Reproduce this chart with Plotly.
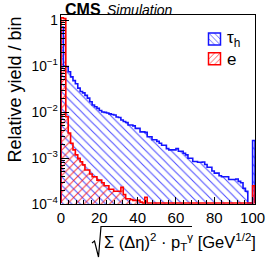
import plotly.graph_objects as go

# ---------------- data ----------------
BIN_WIDTH = 1.25  # 80 bins over 0-100, last entry = overflow bin (100-101.25)

tau_h = [0.70, 0.100, 0.097, 0.075, 0.058, 0.048, 0.041, 0.033, 0.028, 0.026,
         0.023, 0.020, 0.0167, 0.0142, 0.0130, 0.0120, 0.0108, 0.0100, 0.0098, 0.0095,
         0.0091, 0.0088, 0.0086, 0.0078, 0.0076, 0.0067, 0.0062, 0.0059, 0.0052, 0.0052,
         0.0050, 0.0044, 0.0044, 0.0037, 0.0037, 0.0036, 0.0029, 0.0029, 0.0025, 0.0025,
         0.0023, 0.0021, 0.0019, 0.0019, 0.0016, 0.0015, 0.0015, 0.0015, 0.0016, 0.0014,
         0.0014, 0.00127, 0.00117, 0.00099, 0.00099, 0.00084, 0.00084, 0.00081, 0.00081, 0.00082,
         0.00072, 0.00063, 0.00063, 0.00052, 0.00047, 0.00047, 0.00041, 0.00039, 0.00039, 0.00039,
         0.00034, 0.00034, 0.00034, 0.00035, 0.00031, 0.00029, 0.00022, 0.00019, 0.0, 0.0,
         0.0024]

electron = [1.12, 1.08, 0.0079, 0.0035, 0.0021, 0.0015, 0.00117, 0.00098, 0.00083, 0.00071,
            0.00055, 0.00055, 0.00045, 0.00039, 0.00039, 0.00033, 0.00033, 0.00029, 0.00025, 0.00025,
            0.00021, 0.00021, 0.00019, 0.00019, 0.00019, 0.00023, 0.00016, 0.00013, 0.00013, 0.000125,
            0.00012, 0.00012, 0.00012, 0.00011, 0.000105, 0.00014, 0.0, 0.0, 0.0, 0.0,
            0.0, 0.0, 0.0, 0.0, 0.0, 0.0, 0.0, 0.0, 0.0, 0.0,
            0.0, 0.0, 0.0, 0.0, 0.0, 0.0, 0.0, 0.0, 0.0, 0.0,
            0.0, 0.0, 0.0, 0.0, 0.0, 0.0, 0.0, 0.0, 0.0, 0.0,
            0.0, 0.0, 0.0, 0.0, 0.0, 0.0, 0.0, 0.0, 0.0, 0.0,
            0.00025]

series_names = ["τ<sub>h</sub>", "e"]
x_tick_vals = [0, 20, 40, 60, 80, 100]

# ---------------- styling ----------------
BLUE = "rgb(20,20,255)"
RED = "rgb(255,0,0)"
FONT = "Arial, Liberation Sans, Helvetica, sans-serif"
W, H = 266, 258
L, R, T, B = 61, 11, 15, 54
FLOOR = 1.05e-4
X_MAX = BIN_WIDTH * len(tau_h)


def px_x(px):
    return (px - L) / (W - L - R)


def px_y(py):
    return (H - B - py) / (H - T - B)


def centers(vals):
    return [(i + 0.5) * BIN_WIDTH for i in range(len(vals))]


def outline(vals):
    xs, ys = [0.0], [FLOOR]
    for i, v in enumerate(vals):
        xs.append(i * BIN_WIDTH)
        ys.append(max(v, FLOOR))
    xs.append(len(vals) * BIN_WIDTH)
    ys.append(FLOOR)
    return xs, ys


fig = go.Figure()


def add_hist(vals, color, shape):
    fig.add_trace(go.Bar(
        x=centers(vals), y=[v if v > 0 else None for v in vals], width=BIN_WIDTH,
        marker=dict(color="rgba(0,0,0,0)", line=dict(width=0),
                    pattern=dict(shape=shape, fgcolor=color, fgopacity=0.75,
                                 bgcolor="rgba(0,0,0,0)", size=6, solidity=0.18,
                                 fillmode="overlay")),
        showlegend=False, hoverinfo="skip"))
    xs, ys = outline(vals)
    fig.add_trace(go.Scatter(x=xs, y=ys, mode="lines", line=dict(color=color, width=1.6, shape="hv"),
                             showlegend=False, hoverinfo="skip"))


add_hist(tau_h, BLUE, "\\")
add_hist(electron, RED, "/")

# legend symbols (empty helper traces)
for color, shape in [(BLUE, "\\"), (RED, "/")]:
    fig.add_trace(go.Bar(x=[None], y=[None], name=" ",
                         marker=dict(color="rgba(0,0,0,0)", line=dict(color=color, width=1.5),
                                     pattern=dict(shape=shape, fgcolor=color, fgopacity=0.8,
                                                  bgcolor="rgba(0,0,0,0)", size=5, solidity=0.2,
                                                  fillmode="overlay"))))

ann = []
ann.append(dict(text="<b>CMS</b>", x=px_x(63), y=1, xref="paper", yref="paper", xanchor="left",
                yanchor="bottom", yshift=-5, showarrow=False, font=dict(size=16, family=FONT, color="black")))
ann.append(dict(text="<i>Simulation</i>", x=px_x(105), y=1, xref="paper", yref="paper", xanchor="left",
                yanchor="bottom", yshift=-5, showarrow=False, font=dict(size=14, family=FONT, color="black")))
ann.append(dict(text="Relative yield / bin", textangle=-90, x=px_x(14.5), y=px_y(15), xref="paper",
                yref="paper", xanchor="center", yanchor="top", showarrow=False,
                font=dict(size=18, family=FONT, color="black")))
ann.append(dict(text="Σ (Δη)<sup>2</sup> · p<sub>T</sub><sup>γ</sup> [GeV<sup>1/2</sup>]",
                x=px_x(102), y=px_y(242), xref="paper", yref="paper", xanchor="left", yanchor="middle",
                showarrow=False, font=dict(size=16.5, family=FONT, color="black")))
for name, py in zip(series_names, [39, 59]):
    ann.append(dict(text=name, x=px_x(225), y=px_y(py), xref="paper", yref="paper", xanchor="left",
                    yanchor="middle", showarrow=False, font=dict(size=17, family=FONT, color="black")))

radical = [(92, 243), (94.5, 241), (98.5, 257), (101, 226.5), (192, 226.5)]
path = "M" + " L".join(f"{px_x(a):.4f},{px_y(b):.4f}" for a, b in radical)

fig.update_layout(
    width=W, height=H, margin=dict(l=L, r=R, t=T, b=B, autoexpand=False),
    paper_bgcolor="white", plot_bgcolor="white",
    barmode="overlay", bargap=0,
    font=dict(family=FONT, color="black"),
    annotations=ann,
    shapes=[dict(type="path", path=path, xref="paper", yref="paper",
                 line=dict(color="black", width=1.2))],
    legend=dict(x=px_x(194.5), y=px_y(24), xanchor="left", yanchor="top",
                bgcolor="rgba(0,0,0,0)", borderwidth=0, font=dict(size=13), tracegroupgap=0),
    xaxis=dict(range=[0, X_MAX], tickvals=x_tick_vals, ticks="inside", ticklen=7, tickwidth=1,
               tickcolor="black", showline=True, linecolor="black", linewidth=1, mirror=True,
               showgrid=False, zeroline=False, tickfont=dict(size=15, family=FONT), automargin=False,
               minor=dict(ticks="inside", ticklen=4, dtick=4, tickcolor="black", showgrid=False)),
    yaxis=dict(type="log", range=[-4, 0.109], dtick=1, exponentformat="power", ticks="inside",
               ticklen=8, tickwidth=1, tickcolor="black", showline=True, linecolor="black",
               linewidth=1, mirror=True, showgrid=False, zeroline=False, automargin=False,
               tickfont=dict(size=11, family=FONT),
               minor=dict(ticks="inside", ticklen=4, dtick="D1", tickcolor="black", showgrid=False)),
)

fig.write_html("out.html", config={"displayModeBar": False},
               post_script="document.body.style.margin='0';document.body.style.padding='0';")
